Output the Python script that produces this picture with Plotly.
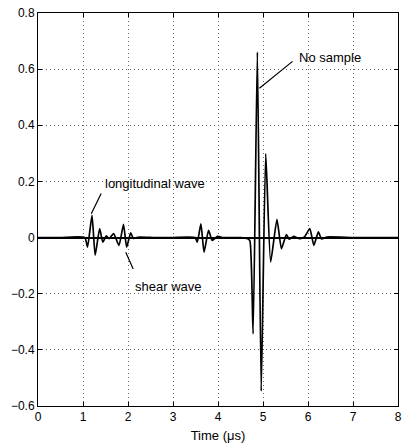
import plotly.graph_objects as go

# Waveform knots (time in microseconds, amplitude)
time_us = [0.0, 0.5, 1.04, 1.10, 1.20, 1.27, 1.37, 1.44, 1.52, 1.58, 1.68, 1.80, 1.90, 1.97, 2.06, 2.12,
           2.25, 2.6, 3.0, 3.49, 3.54, 3.62, 3.69, 3.79, 3.87, 3.99, 4.1, 4.5, 4.66, 4.71, 4.78, 4.875,
           4.96, 5.06, 5.17, 5.31, 5.41, 5.52, 5.58, 5.68, 5.80, 5.92, 6.04, 6.13, 6.23, 6.30, 6.42,
           7.0, 7.5, 8.0]
amplitude = [0.0, 0.0, 0.0, -0.034, 0.079, -0.063, 0.032, -0.016, 0.006, -0.004, 0.014, -0.028, 0.047,
             -0.034, 0.017, -0.003, 0.002, 0.0, 0.0, 0.0, -0.016, 0.049, -0.052, 0.026, -0.010, 0.004,
             0.0, 0.0, -0.004, -0.012, -0.343, 0.661, -0.547, 0.299, -0.087, 0.065, -0.040, 0.011,
             -0.006, 0.004, -0.004, 0.002, 0.032, -0.028, 0.020, -0.005, 0.002, 0.0, 0.0, 0.0]

x_ticks = [0, 1, 2, 3, 4, 5, 6, 7, 8]
y_ticks = [-0.6, -0.4, -0.2, 0, 0.2, 0.4, 0.6, 0.8]
y_tick_labels = ["\u22120.6", "\u22120.4", "\u22120.2", "0", "0.2", "0.4", "0.6", "0.8"]

# Annotations: (text, arrow head x, head y, arrow tail x, tail y, text x, text y)
notes = [
    ("No sample", 4.92, 0.532, 5.69, 0.632, 5.76, 0.643),
    ("longitudinal wave", 1.184, 0.085, 1.42, 0.162, 1.44, 0.192),
    ("shear wave", 1.95, -0.052, 2.13, -0.117, 2.12, -0.176),
]

FONT = "Liberation Sans, Arial, sans-serif"

fig = go.Figure()
fig.add_trace(go.Scatter(
    x=time_us, y=amplitude, mode="lines",
    line=dict(color="black", width=1.7, shape="spline", smoothing=0.5),
    showlegend=False,
))

for text, hx, hy, ax_, ay_, tx, ty in notes:
    fig.add_annotation(
        x=hx, y=hy, ax=ax_, ay=ay_, axref="x", ayref="y", xref="x", yref="y",
        text="", showarrow=True, arrowhead=0, arrowwidth=1.2, arrowcolor="black",
    )
    fig.add_annotation(
        x=tx, y=ty, xref="x", yref="y", text=text, showarrow=False,
        xanchor="left", yanchor="middle",
        font=dict(family=FONT, size=13, color="black"),
    )

axis_common = dict(
    showline=True, linecolor="black", linewidth=1, mirror="allticks",
    ticks="inside", ticklen=4, tickcolor="black",
    showgrid=True, gridcolor="#666666", griddash="1px,3px", gridwidth=1,
    tickfont=dict(family=FONT, size=12, color="black"),
)

fig.update_xaxes(
    range=[0, 8], tickvals=x_ticks, zeroline=False,
    title=dict(text="Time (\u03bcs)", font=dict(family=FONT, size=13, color="black"), standoff=7),
    **axis_common,
)
fig.update_yaxes(
    range=[-0.6, 0.8], tickvals=y_ticks, ticktext=y_tick_labels,
    zeroline=True, zerolinecolor="black", zerolinewidth=2,
    **axis_common,
)

fig.update_layout(
    width=406, height=446,
    margin=dict(l=38, r=4, t=13, b=40),
    paper_bgcolor="white", plot_bgcolor="white",
)

fig.write_html(
    "out.html",
    config={"displayModeBar": False},
    post_script="document.body.style.margin='0';document.body.style.overflow='hidden';",
)
